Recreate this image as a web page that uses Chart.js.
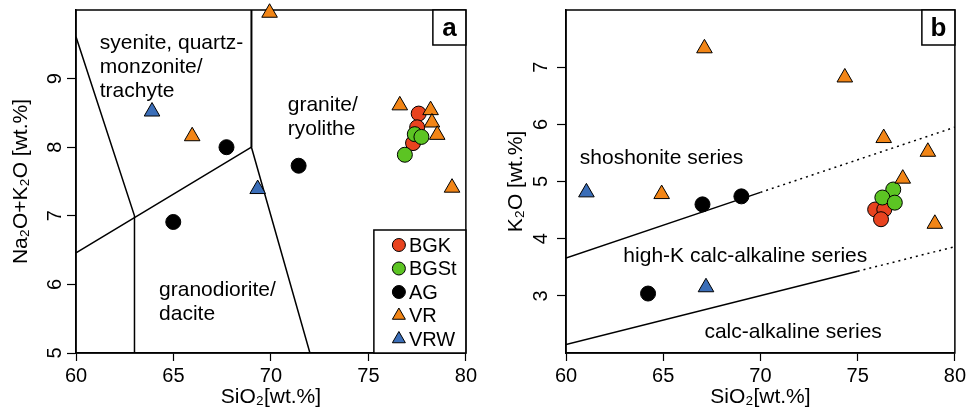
<!DOCTYPE html>
<html>
<head>
<meta charset="utf-8">
<script src="https://cdn.jsdelivr.net/npm/chart.js@4.4.1/dist/chart.umd.min.js"></script>
<style>
  html, body { margin: 0; padding: 0; background: #fff; }
  #wrap { position: relative; width: 969px; height: 412px; }
  canvas { position: absolute; top: 0; }
  #chartA { left: 0; }
  #chartB { left: 480px; }
</style>
</head>
<body>
<div id="wrap">
  <canvas id="chartA" width="480" height="412"></canvas>
  <canvas id="chartB" width="489" height="412"></canvas>
</div>
<script>
const FONT = '"Liberation Sans", Arial, Helvetica, sans-serif';

// tick labels
const xTicks = [60, 65, 70, 75, 80];
const yTicksA = [5, 6, 7, 8, 9];
const yTicksB = [3, 4, 5, 6, 7];

// panel a: SiO2 vs Na2O+K2O
const bgkA = [[77.58, 8.49], [77.5, 8.29], [77.29, 8.06]];
const bgstA = [[77.38, 8.19], [77.72, 8.15], [76.87, 7.89]];
const agA = [[67.72, 8.0], [71.42, 7.73], [64.99, 6.91]];
const vrA = [[69.93, 9.96], [65.96, 8.16], [76.61, 8.61], [78.19, 8.54], [78.26, 8.36], [78.53, 8.18], [79.29, 7.41]];
const vrwA = [[63.9, 8.52], [69.32, 7.39]];

// panel a: field boundaries
const tasLine1 = [[60, 9.61], [63, 7.0], [63, 5]];
const tasLine2 = [[60, 6.46], [69, 8], [72, 5]];
const tasLine3 = [[69, 8], [69, 10]];

// panel b: SiO2 vs K2O
const bgkB = [[75.9, 4.51], [76.37, 4.51], [76.2, 4.34]];
const bgstB = [[76.83, 4.86], [76.27, 4.72], [76.91, 4.63]];
const agB = [[67.02, 4.6], [69.02, 4.74], [64.22, 3.04]];
const vrB = [[67.12, 7.33], [74.34, 6.82], [76.34, 5.76], [78.61, 5.52], [77.32, 5.05], [78.97, 4.26], [64.92, 4.78]];
const vrwB = [[61.05, 4.81], [67.2, 3.15]];

// panel b: series boundaries
const shoSolid = [[60, 3.66], [70, 4.81]];
const shoDotted = [[70, 4.81], [80, 5.95]];
const calcSolid = [[60, 2.15], [75, 3.43]];
const calcDotted = [[75, 3.43], [80, 3.86]];

// field names, anchored in data units (left edge, first line centre)
const fieldsA = [
  { text: ['syenite, quartz-', 'monzonite/', 'trachyte'], x: 61.22, y: 9.52 },
  { text: ['granite/', 'ryolithe'], x: 70.86, y: 8.61 },
  { text: ['granodiorite/', 'dacite'], x: 64.26, y: 5.92 }
];
const fieldsB = [
  { text: ['shoshonite series'], x: 60.71, y: 5.41 },
  { text: ['high-K calc-alkaline series'], x: 62.95, y: 3.69 },
  { text: ['calc-alkaline series'], x: 67.12, y: 2.37 }
];

const groups = [
  { label: 'BGK', color: '#e8431f', style: 'circle' },
  { label: 'BGSt', color: '#5cc423', style: 'circle' },
  { label: 'AG', color: '#000000', style: 'circle' },
  { label: 'VR', color: '#f28516', style: 'triangle' },
  { label: 'VRW', color: '#3b6eb8', style: 'triangle' }
];

const toXY = arr => arr.map(([x, y]) => ({ x, y }));

function markerSets(seriesList) {
  return groups.map((g, i) => ({
    label: g.label,
    data: toXY(seriesList[i]),
    pointStyle: g.style,
    pointRadius: g.style === 'triangle' ? 9 : 7.5,
    pointBackgroundColor: g.color,
    pointBorderColor: '#000',
    pointBorderWidth: 1,
    showLine: false,
    clip: false,
    order: groups.length - i
  }));
}

function lineSet(points, width, dash) {
  return {
    label: '',
    data: toXY(points),
    showLine: true,
    borderColor: '#000',
    borderWidth: width,
    borderDash: dash || [],
    pointRadius: 0,
    pointHoverRadius: 0,
    order: 20,
    isBoundary: true
  };
}

const framePlugin = {
  id: 'frame',
  beforeDatasetsDraw(chart) {
    const { ctx, chartArea: a } = chart;
    ctx.save();
    ctx.strokeStyle = '#000';
    ctx.lineWidth = 1.5;
    ctx.strokeRect(a.left, a.top, a.right - a.left, a.bottom - a.top);
    ctx.restore();
  }
};

const decorPlugin = {
  id: 'decor',
  afterDraw(chart, args, opts) {
    const { ctx, chartArea: a, scales } = chart;
    ctx.save();
    ctx.fillStyle = '#000';

    // rotated y tick labels
    ctx.font = `20px ${FONT}`;
    ctx.textAlign = 'center';
    ctx.textBaseline = 'middle';
    opts.yTicks.forEach(v => {
      const py = scales.y.getPixelForValue(v);
      ctx.save();
      ctx.translate(a.left - opts.tickOffset, py);
      ctx.rotate(-Math.PI / 2);
      ctx.fillText(String(v), 0, 0);
      ctx.restore();
    });

    // field names
    ctx.font = `21px ${FONT}`;
    ctx.textAlign = 'left';
    opts.fields.forEach(f => {
      const px = scales.x.getPixelForValue(f.x);
      const py = scales.y.getPixelForValue(f.y);
      f.text.forEach((line, i) => ctx.fillText(line, px, py + i * 24));
    });

    // panel letter
    const bw = 33, bh = 35;
    ctx.fillStyle = '#fff';
    ctx.fillRect(a.right - bw, a.top, bw, bh);
    ctx.strokeStyle = '#000';
    ctx.lineWidth = 1.5;
    ctx.strokeRect(a.right - bw, a.top, bw, bh);
    ctx.fillStyle = '#000';
    ctx.font = `bold 26px ${FONT}`;
    ctx.textAlign = 'center';
    ctx.fillText(opts.letter, a.right - bw / 2, a.top + bh / 2 + 1);

    // legend
    if (opts.legend) {
      const lw = 92, lh = 123;
      const lx = a.right - lw, ly = a.bottom - lh;
      ctx.fillStyle = '#fff';
      ctx.fillRect(lx, ly, lw, lh);
      ctx.strokeRect(lx, ly, lw, lh);
      ctx.font = `20px ${FONT}`;
      ctx.textAlign = 'left';
      chart.data.datasets.filter(d => !d.isBoundary).forEach((d, i) => {
        const cy = ly + 15 + i * 23.5;
        ctx.fillStyle = d.pointBackgroundColor;
        ctx.strokeStyle = '#000';
        ctx.lineWidth = 1;
        Chart.helpers.drawPoint(ctx, {
          pointStyle: d.pointStyle,
          radius: d.pointStyle === 'triangle' ? 7.5 : 6.5,
          borderWidth: 1,
          rotation: 0
        }, lx + 25, cy);
        ctx.fillStyle = '#000';
        ctx.fillText(d.label, lx + 35, cy + 1);
      });
    }
    ctx.restore();
  }
};

function makeOptions(cfg) {
  return {
    responsive: false,
    animation: false,
    devicePixelRatio: 1,
    layout: { padding: { top: 10, right: 10, left: 0, bottom: 0 } },
    plugins: {
      legend: { display: false },
      tooltip: { enabled: false },
      decor: cfg.decor
    },
    scales: {
      x: {
        type: 'linear',
        min: 60,
        max: 80,
        afterBuildTicks: s => { s.ticks = xTicks.map(v => ({ value: v })); },
        afterFit: s => { s.height = 59; },
        ticks: { font: { family: FONT, size: 20 }, color: '#000', padding: 3, maxRotation: 0 },
        grid: { drawOnChartArea: false, color: '#000', tickLength: 8, tickWidth: 1.2 },
        border: { color: '#000', width: 1.5 },
        title: {
          display: true,
          text: 'SiO₂[wt.%]',
          font: { family: FONT, size: 21 },
          color: '#000',
          padding: { top: 0, bottom: 2 }
        }
      },
      y: {
        type: 'linear',
        min: cfg.yMin,
        max: cfg.yMax,
        afterBuildTicks: s => { s.ticks = cfg.decor.yTicks.map(v => ({ value: v })); },
        afterFit: s => { s.width = cfg.yWidth; },
        ticks: { display: false },
        grid: { drawOnChartArea: false, color: '#000', tickLength: 9, tickWidth: 1.2 },
        border: { color: '#000', width: 1.5 },
        title: {
          display: true,
          text: cfg.yTitle,
          font: { family: FONT, size: 21 },
          color: '#000',
          padding: { top: cfg.titlePad, bottom: 0 }
        }
      }
    }
  };
}

new Chart(document.getElementById('chartA'), {
  type: 'scatter',
  data: {
    datasets: [
      ...markerSets([bgkA, bgstA, agA, vrA, vrwA]),
      lineSet(tasLine1, 1.5),
      lineSet(tasLine2, 1.5),
      lineSet(tasLine3, 2)
    ]
  },
  options: makeOptions({
    yMin: 5, yMax: 10, yWidth: 76, titlePad: 9,
    yTitle: 'Na₂O+K₂O [wt.%]',
    decor: { yTicks: yTicksA, tickOffset: 21, fields: fieldsA, letter: 'a', legend: true }
  }),
  plugins: [framePlugin, decorPlugin]
});

new Chart(document.getElementById('chartB'), {
  type: 'scatter',
  data: {
    datasets: [
      ...markerSets([bgkB, bgstB, agB, vrB, vrwB]),
      lineSet(shoSolid, 1.5),
      lineSet(shoDotted, 1.5, [2, 4]),
      lineSet(calcSolid, 1.5),
      lineSet(calcDotted, 1.5, [2, 4])
    ]
  },
  options: makeOptions({
    yMin: 2, yMax: 8, yWidth: 86, titlePad: 24,
    yTitle: 'K₂O [wt.%]',
    decor: { yTicks: yTicksB, tickOffset: 25, fields: fieldsB, letter: 'b', legend: false }
  }),
  plugins: [framePlugin, decorPlugin]
});
</script>
</body>
</html>
